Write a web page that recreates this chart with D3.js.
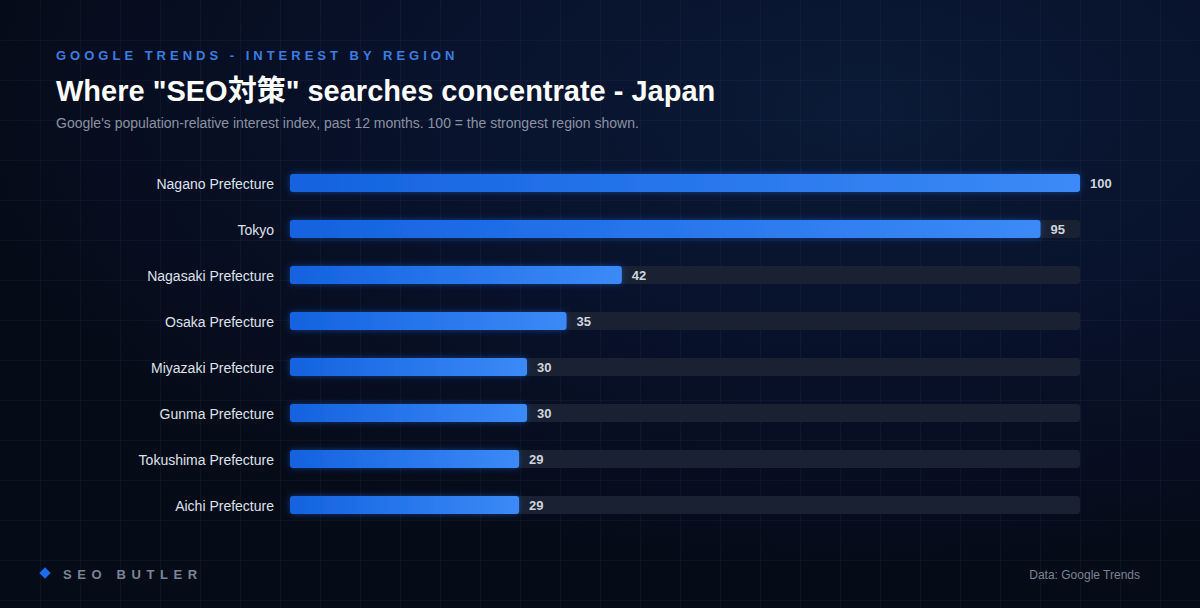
<!DOCTYPE html>
<html><head><meta charset="utf-8">
<script src="https://cdn.jsdelivr.net/npm/d3@7"></script>
<style>
html,body{margin:0;padding:0;background:#070d1c;}
svg{display:block;}
</style></head>
<body>
<script>
const categories = ["Nagano Prefecture","Tokyo","Nagasaki Prefecture","Osaka Prefecture","Miyazaki Prefecture","Gunma Prefecture","Tokushima Prefecture","Aichi Prefecture"];
const values = [100,95,42,35,30,30,29,29];
const eyebrow = "GOOGLE TRENDS - INTEREST BY REGION";
const title = "Where \"SEO対策\" searches concentrate - Japan";
const subtitle = "Google's population-relative interest index, past 12 months. 100 = the strongest region shown.";
const brand = "SEO BUTLER";
const source = "Data: Google Trends";

const W = 1200, H = 608;
const svg = d3.select("body").append("svg").attr("width", W).attr("height", H);
const defs = svg.append("defs");

const bg = defs.append("radialGradient").attr("id","bg").attr("cx","0.72").attr("cy","0.18").attr("r","0.75");
bg.append("stop").attr("offset","0").attr("stop-color","#0b1a36");
bg.append("stop").attr("offset","0.55").attr("stop-color","#08112a");
bg.append("stop").attr("offset","1").attr("stop-color","#060b18");
svg.append("rect").attr("width",W).attr("height",H).attr("fill","url(#bg)");

// faint grid
const grid = svg.append("g").attr("stroke","rgba(140,170,220,0.05)").attr("stroke-width",1);
grid.selectAll("line.v").data(d3.range(40, W, 40)).join("line")
  .attr("x1",d=>d+0.5).attr("x2",d=>d+0.5).attr("y1",0).attr("y2",H);
grid.selectAll("line.h").data(d3.range(40, H, 40)).join("line")
  .attr("y1",d=>d+0.5).attr("y2",d=>d+0.5).attr("x1",0).attr("x2",W);

const barGrad = defs.append("linearGradient").attr("id","barGrad")
  .attr("x1","0").attr("x2","1").attr("y1","0").attr("y2","0");
barGrad.append("stop").attr("offset","0").attr("stop-color","#1462df");
barGrad.append("stop").attr("offset","1").attr("stop-color","#3b8af7");

const glow = defs.append("filter").attr("id","glow").attr("x","-20%").attr("y","-100%").attr("width","140%").attr("height","300%");
glow.append("feGaussianBlur").attr("in","SourceAlpha").attr("stdDeviation","3").attr("result","b");
glow.append("feFlood").attr("flood-color","#1f6cff").attr("flood-opacity","0.45");
glow.append("feComposite").attr("in2","b").attr("operator","in").attr("result","g");
const fm = glow.append("feMerge");
fm.append("feMergeNode").attr("in","g");
fm.append("feMergeNode").attr("in","SourceGraphic");

const font = "'Liberation Sans', Arial, Helvetica, sans-serif";

// header
svg.append("text").attr("x",56).attr("y",60).text(eyebrow)
  .attr("font-family",font).attr("font-size",13).attr("font-weight",700)
  .attr("letter-spacing","4.0px").attr("fill","#3a7ee2");
svg.append("text").attr("x",56).attr("y",101).text(title)
  .attr("font-family","'Liberation Sans', 'Noto Sans CJK JP', Arial, sans-serif").attr("font-size",29).attr("font-weight",700)
  .attr("fill","#ffffff");
svg.append("text").attr("x",56).attr("y",128).text(subtitle)
  .attr("font-family",font).attr("font-size",14).attr("fill","#8b93a3");

// scales
const x = d3.scaleLinear().domain([0,100]).range([290,1080]);
const y = d3.scaleBand().domain(categories).range([160,528]).paddingInner(0.61).paddingOuter(0.305);
const bh = y.bandwidth();

const rows = svg.append("g").selectAll("g").data(categories).join("g");
rows.append("rect").attr("x",x(0)).attr("y",d=>y(d)).attr("width",x(100)-x(0)).attr("height",bh)
  .attr("rx",3).attr("fill","#192132");
rows.append("rect").attr("x",x(0)).attr("y",d=>y(d)).attr("width",(d,i)=>x(values[i])-x(0)).attr("height",bh)
  .attr("rx",3).attr("fill","url(#barGrad)").attr("filter","url(#glow)");
rows.append("text").attr("x",274).attr("y",d=>y(d)+bh/2+1).attr("dy","0.35em")
  .attr("text-anchor","end").text(d=>d)
  .attr("font-family",font).attr("font-size",14).attr("fill","#dde2ea");
rows.append("text").attr("x",(d,i)=>x(values[i])+10).attr("y",d=>y(d)+bh/2).attr("dy","0.35em")
  .text((d,i)=>values[i])
  .attr("font-family",font).attr("font-size",13).attr("font-weight",700).attr("fill","#cfd5df");

// footer
svg.append("rect").attr("x",41).attr("y",569).attr("width",8).attr("height",8)
  .attr("transform","rotate(45 45 573)").attr("fill","#1a6cf2");
svg.append("text").attr("x",63).attr("y",579).text(brand)
  .attr("font-family",font).attr("font-size",13).attr("font-weight",700)
  .attr("letter-spacing","5.6px").attr("fill","#7a8596");
svg.append("text").attr("x",1140).attr("y",579).attr("text-anchor","end").text(source)
  .attr("font-family",font).attr("font-size",12).attr("fill","#7a8596");
</script>
</body></html>
